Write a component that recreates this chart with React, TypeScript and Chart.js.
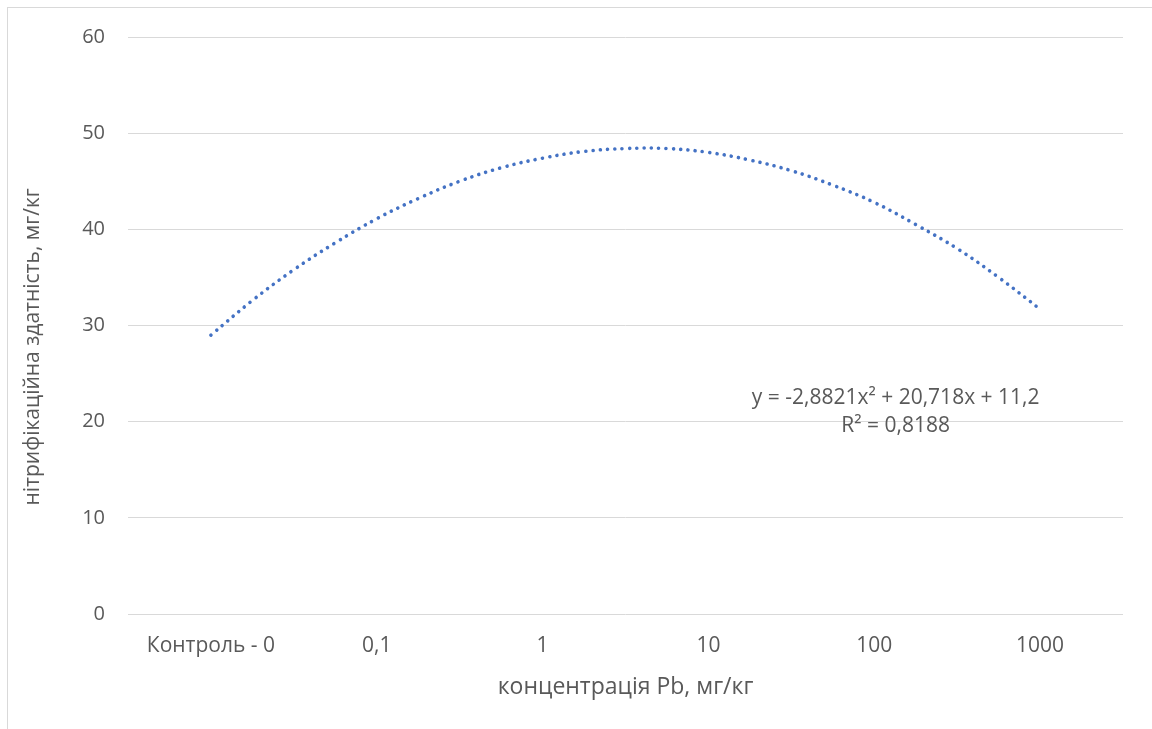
import React, { useEffect, useRef } from "react";
import { Chart, registerables } from "chart.js";

Chart.register(...registerables);

// Category labels along the x axis (positions 1..6)
const categories = ["Контроль - 0", "0,1", "1", "10", "100", "1000"];
// Trendline: x position (category index) and value
const trendX = [1, 1.25, 1.5, 1.75, 2, 2.25, 2.5, 2.75, 3, 3.25, 3.5, 3.75, 4, 4.25, 4.5, 4.75, 5, 5.25, 5.5, 5.75, 6];
const trendY = [29.0, 32.6, 35.8, 38.6, 41.1, 43.2, 45.0, 46.4, 47.4, 48.1, 48.4, 48.4, 48.0, 47.2, 46.1, 44.6, 42.8, 40.5, 38.0, 35.0, 31.7];
const yTicks = [0, 10, 20, 30, 40, 50, 60];
const equationText = "y = -2,8821x² + 20,718x + 11,2";
const r2Text = "R² = 0,8188";
const xTitle = "концентрація Pb, мг/кг";
const yTitle = "нітрифікаційна здатність, мг/кг";

const FONT = "'Open Sans', sans-serif";
const TEXT = "#595959";

export default function App() {
  const ref = useRef<HTMLCanvasElement | null>(null);
  useEffect(() => {
    if (!ref.current) return;
    const annot = {
      id: "annot",
      afterDraw(chart: any) {
        const { ctx, chartArea } = chart;
        const w = chartArea.right - chartArea.left;
        const h = chartArea.bottom - chartArea.top;
        const cx = chartArea.left + w * 0.7715;
        ctx.save();
        ctx.fillStyle = TEXT;
        ctx.textAlign = "center";
        ctx.textBaseline = "middle";
        ctx.font = `21px ${FONT}`;
        ctx.fillText(equationText, cx, chartArea.top + h * 0.6256);
        ctx.fillText(r2Text, cx, chartArea.top + h * 0.674);
        // axis titles
        ctx.font = `23px ${FONT}`;
        ctx.fillText(xTitle, (chartArea.left + chartArea.right) / 2, chartArea.bottom + 73);
        ctx.font = `21px ${FONT}`;
        ctx.save();
        ctx.translate(25, chartArea.top + h * 0.537);
        ctx.rotate(-Math.PI / 2);
        ctx.fillText(yTitle, 0, 0);
        ctx.restore();
        ctx.restore();
      },
    };
    const chart = new Chart(ref.current, {
      type: "line",
      data: {
        datasets: [
          {
            data: trendX.map((x, i) => ({ x, y: trendY[i] })),
            borderColor: "#4472C4",
            borderWidth: 3.6,
            borderDash: [0.01, 7.3],
            borderCapStyle: "round",
            pointRadius: 0,
            tension: 0.4,
            fill: false,
          },
        ],
      },
      options: {
        animation: false,
        responsive: false,
        layout: { padding: { top: 29, right: 29, left: 0, bottom: 0 } },
        plugins: { legend: { display: false }, tooltip: { enabled: false } },
        scales: {
          x: {
            type: "linear",
            min: 0.5,
            max: 6.5,
            afterBuildTicks: (scale: any) => {
              scale.ticks = categories.map((_, i) => ({ value: i + 1 }));
            },
            afterFit: (scale: any) => {
              scale.height = 115;
            },
            grid: { display: false, drawTicks: false },
            border: { display: false },
            ticks: {
              padding: 19,
              maxRotation: 0,
              autoSkip: false,
              color: TEXT,
              font: { family: FONT, size: 21 },
              callback: (v: any) => categories[Math.round(Number(v)) - 1] ?? "",
            },
          },
          y: {
            min: 0,
            max: 60,
            afterBuildTicks: (scale: any) => {
              scale.ticks = yTicks.map((v) => ({ value: v }));
            },
            afterFit: (scale: any) => {
              scale.width = 120;
            },
            grid: { color: "#d9d9d9", lineWidth: 1, drawTicks: false },
            border: { display: false },
            ticks: {
              padding: 23,
              color: TEXT,
              font: { family: FONT, size: 20, lineHeight: 0.4 },
            },
          },
        },
      },
      plugins: [annot],
    } as any);
    return () => chart.destroy();
  }, []);
  return (
    <div
      style={{
        position: "fixed",
        left: 7,
        top: 7,
        width: 1160,
        height: 740,
        border: "1px solid #d9d9d9",
        background: "#fff",
      }}
    >
      <canvas ref={ref} width={1144} height={721} style={{ display: "block" }} />
    </div>
  );
}
